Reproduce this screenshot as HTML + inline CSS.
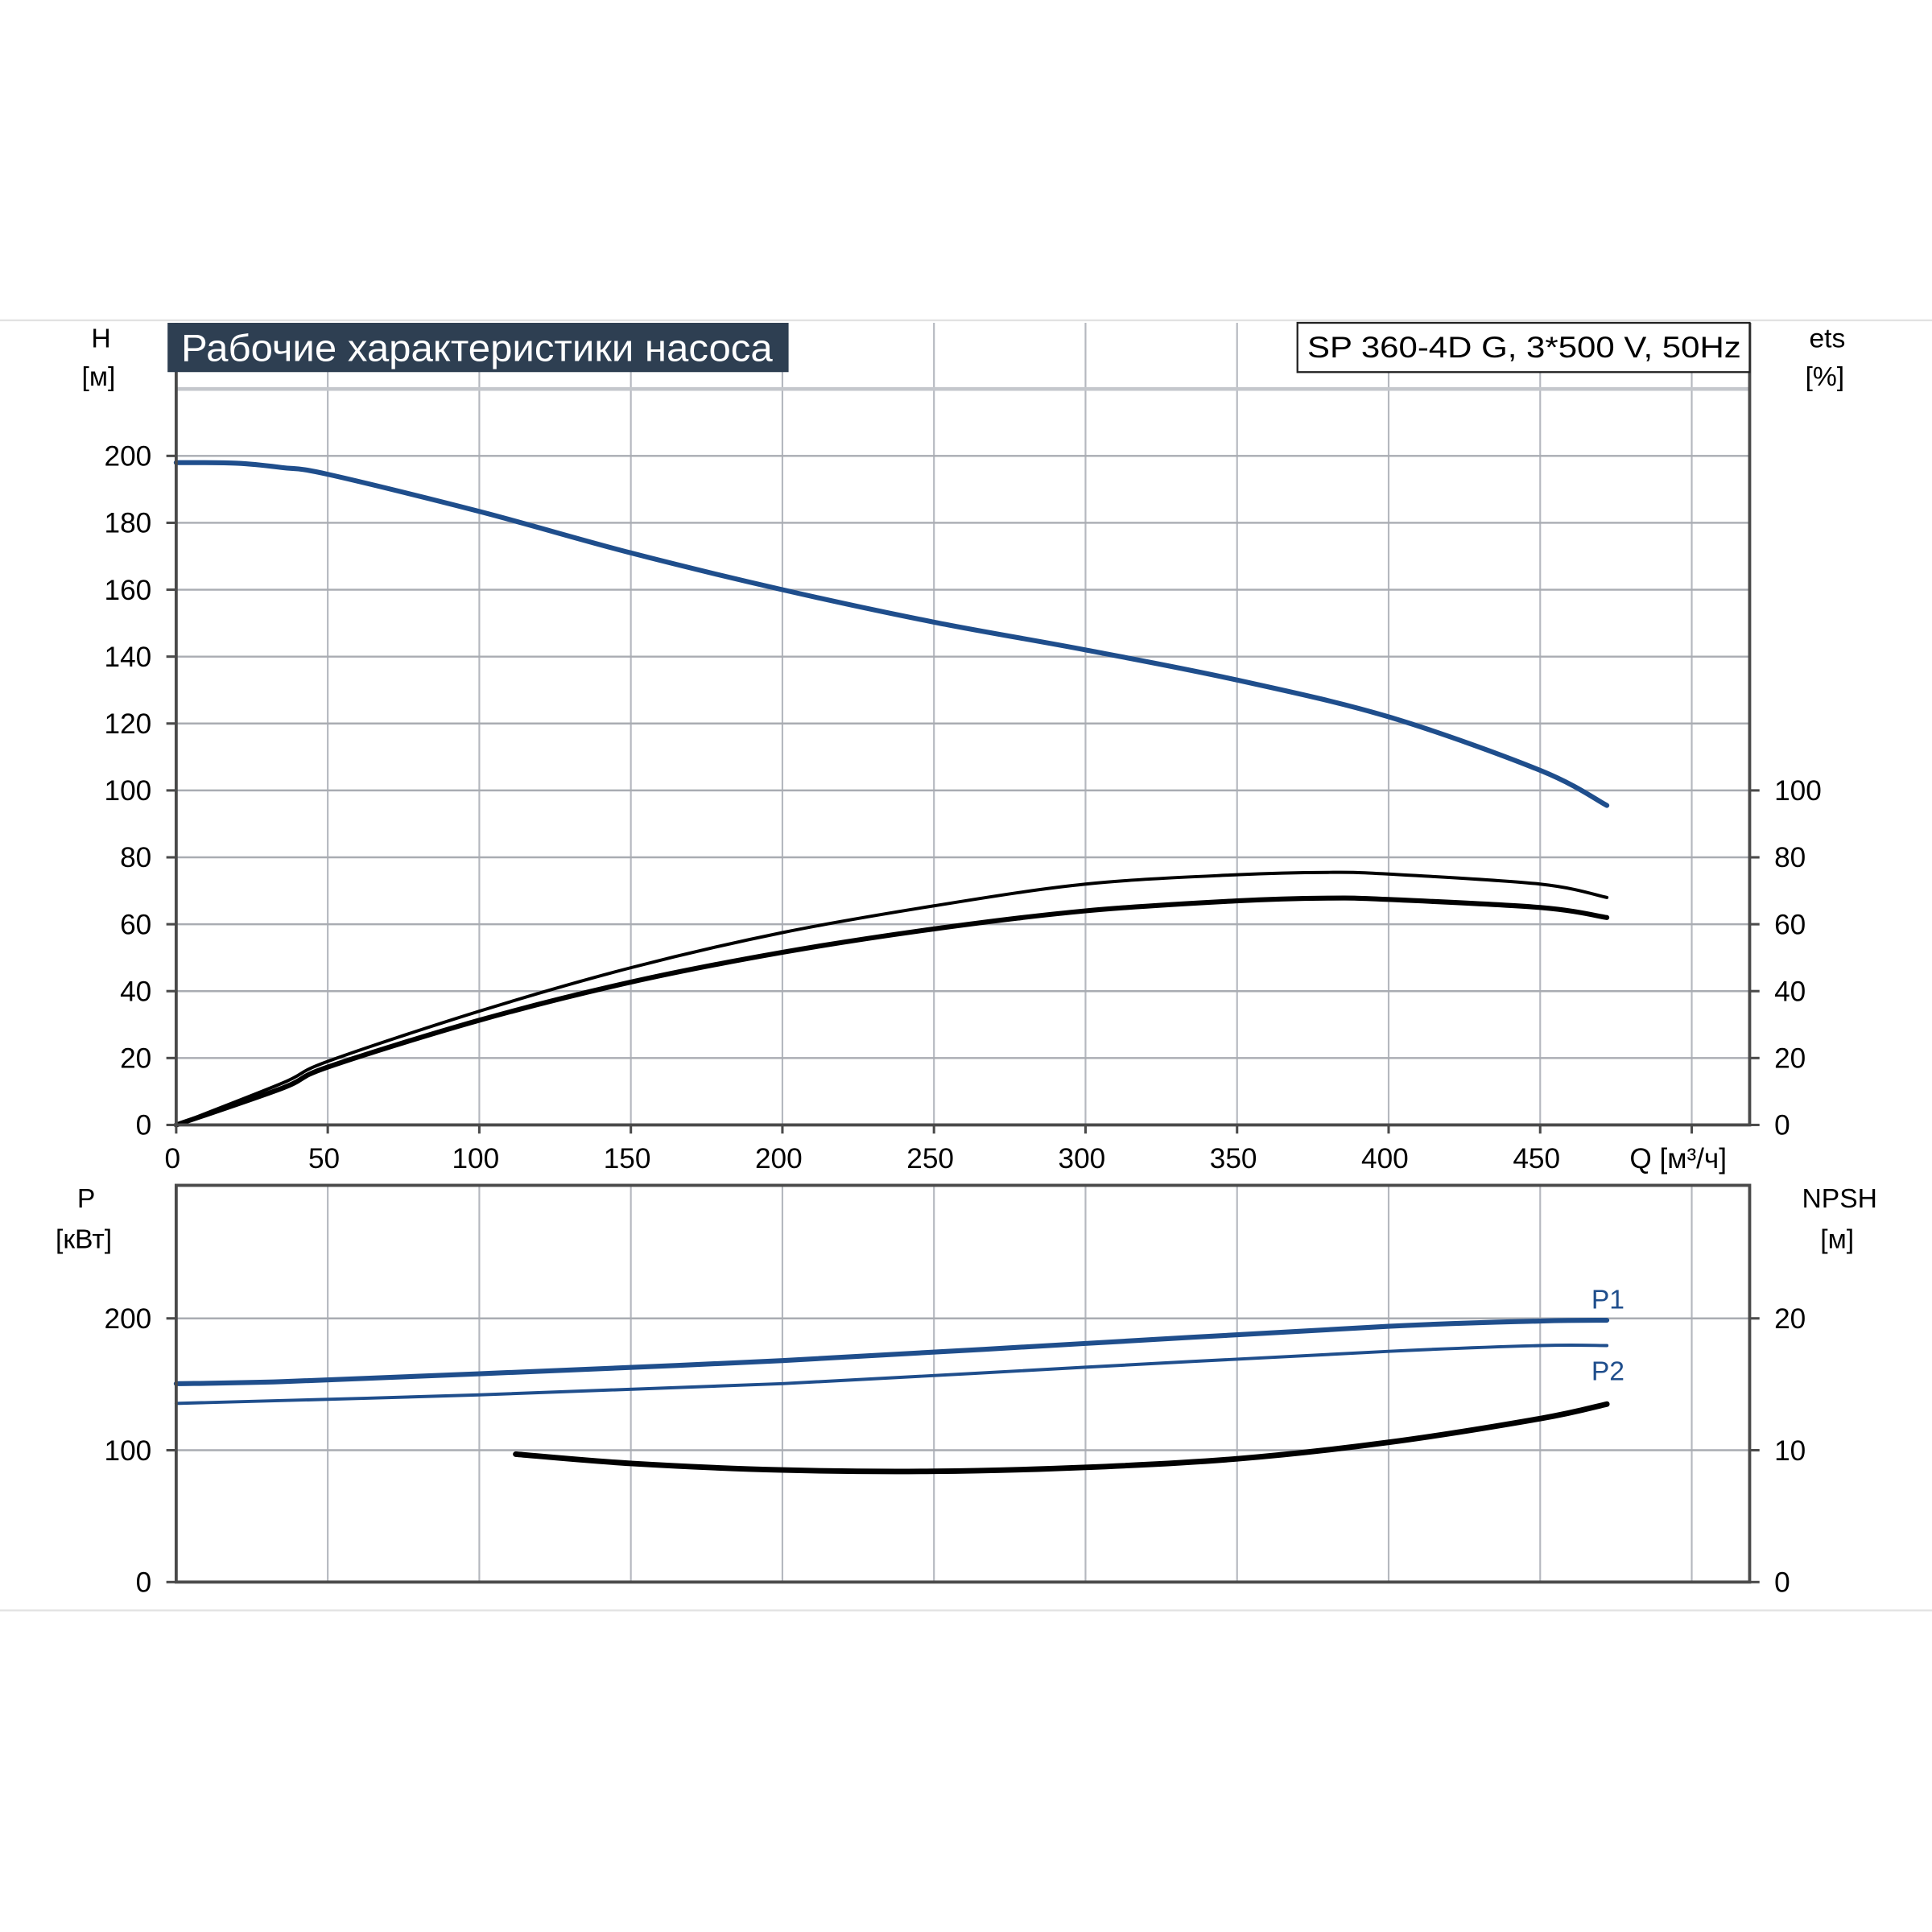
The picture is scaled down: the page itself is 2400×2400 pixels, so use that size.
<!DOCTYPE html>
<html><head><meta charset="utf-8"><style>
html,body{margin:0;padding:0;background:#fff;}
svg{display:block;}
text{font-family:"Liberation Sans",sans-serif;}
</style></head><body>
<svg id="c" width="2400" height="2400" viewBox="0 0 1568 1568" xmlns="http://www.w3.org/2000/svg">
<line x1="0" y1="260" x2="1568" y2="260" stroke="#e2e2e2" stroke-width="1.5"/>
<line x1="0" y1="1307" x2="1568" y2="1307" stroke="#e2e2e2" stroke-width="1.5"/>
<g id="grid"></g>
<g id="series"></g>
<g id="axes"></g>
<rect x="136" y="262" width="504" height="40" fill="#2e3f52"/>
<text x="147" y="293" fill="#fff" font-size="31" textLength="480" lengthAdjust="spacingAndGlyphs" style="font-family:'Liberation Sans Narrow','Liberation Sans',sans-serif">Рабочие характеристики насоса</text>
<rect x="1053" y="262" width="367" height="40" fill="#fff" stroke="#222" stroke-width="1.5"/>
<text x="1061" y="290" font-size="24" textLength="352" lengthAdjust="spacingAndGlyphs">SP 360-4D G, 3*500 V, 50Hz</text>
<text x="82" y="282" font-size="22" text-anchor="middle">H</text>
<text x="80" y="313" font-size="22" text-anchor="middle">[м]</text>
<text x="1483" y="282" font-size="22" text-anchor="middle">ets</text>
<text x="1481" y="313" font-size="22" text-anchor="middle">[%]</text>
<text x="1362" y="948" font-size="23" text-anchor="middle">Q [м³/ч]</text>
<text x="70" y="980" font-size="22" text-anchor="middle">P</text>
<text x="68" y="1013" font-size="22" text-anchor="middle">[кВт]</text>
<text x="1493" y="980" font-size="22" text-anchor="middle">NPSH</text>
<text x="1491" y="1013" font-size="22" text-anchor="middle">[м]</text>
<text x="1305" y="1062" font-size="22" fill="#1f4e8c" text-anchor="middle">P1</text>
<text x="1305" y="1120" font-size="22" fill="#1f4e8c" text-anchor="middle">P2</text>
</svg>
<script>
const qTicks=[0,50,100,150,200,250,300,350,400,450];
const hTicks=[0,20,40,60,80,100,120,140,160,180,200];
const etaTicks=[0,20,40,60,80,100];
const pTicks=[0,100,200];
const npshTicks=[0,10,20];
const hQ=[0,20,35,50,100,150,200,250,300,350,400,450,472];
const hVal=[198,197.8,196.5,194.5,183.4,171,160,150.3,142,133,122,106,95.5];
const eta1Q=[0,35,50,100,150,200,250,300,350,380,400,450,472];
const eta1Val=[0,12.5,19,34,47,57.5,65.5,72,74.8,75.5,75,72,68];
const eta2Q=[0,35,50,100,150,200,250,300,350,380,400,450,472];
const eta2Val=[0,11,17.3,31.3,42.7,51.6,58.6,64,67,67.8,67.4,65,62];
const p1Q=[0,35,100,200,300,400,450,472];
const p1Val=[150.5,152,158,168,181,194,198,198.6];
const p2Q=[0,100,200,300,400,450,472];
const p2Val=[135.5,142,150.5,163,175,179.4,179.4];
const npshQ=[112,150,200,250,300,350,400,450,472];
const npshVal=[9.7,9.0,8.5,8.4,8.7,9.35,10.6,12.4,13.5];

const NS='http://www.w3.org/2000/svg';
const X0=143,X1=1420,TOP0=913,TOP1=262,BOT0=1284,BOT1=962;
const xS=q=>X0+q*(123/50);
const hS=v=>TOP0-v*(54.3/20);
const eS=v=>TOP0-v*(54.3/20);
const pS=v=>BOT0-v*(214/200);
const nS=v=>BOT0-v*(214/20);
function mk(tag,attrs,parent){const e=document.createElementNS(NS,tag);for(const k in attrs)e.setAttribute(k,attrs[k]);parent.appendChild(e);return e;}
const grid=document.getElementById('grid'),axes=document.getElementById('axes'),ser=document.getElementById('series');
for(let q=50;q<=500;q+=50){
 let l=mk('line',{x1:xS(q),y1:TOP1,x2:xS(q),y2:TOP0,stroke:'#b5b8bf','stroke-width':1.4},grid);
 
 
 let l2=mk('line',{x1:xS(q),y1:BOT1,x2:xS(q),y2:BOT0,stroke:'#b5b8bf','stroke-width':1.4},grid);
 
 
}
for(let h=20;h<=220;h+=20){
 let l=mk('line',{x1:X0,y1:hS(h),x2:X1,y2:hS(h),stroke:h==220?'#c4c7cc':'#a9acb2','stroke-width':h==220?3:1.6},grid);
 
 
}
for(const p of [100,200]){
 let l=mk('line',{x1:X0,y1:pS(p),x2:X1,y2:pS(p),stroke:'#a9acb2','stroke-width':1.6},grid);
 
 
}
let f1=mk('path',{d:`M${X0},${TOP1}V${TOP0}H${X1}V${TOP1}`,fill:'none',stroke:'#4a4a4a','stroke-width':2.5},axes);


let f2=mk('rect',{x:X0,y:BOT1,width:X1-X0,height:BOT0-BOT1,fill:'none',stroke:'#4a4a4a','stroke-width':2.5},axes);


function txt(s,x,y,anchor,name){const t=mk('text',{x:x,y:y,'font-size':23,'text-anchor':anchor},axes);t.textContent=s;return t;}
qTicks.forEach(q=>{
 mk('line',{x1:xS(q),y1:TOP0,x2:xS(q),y2:TOP0+7,stroke:'#4a4a4a','stroke-width':2},axes);
 txt(String(q),xS(q)-3,948,'middle','q-tick-label');
});
mk('line',{x1:xS(500),y1:TOP0,x2:xS(500),y2:TOP0+7,stroke:'#4a4a4a','stroke-width':2},axes);
hTicks.forEach(h=>{
 mk('line',{x1:X0-8,y1:hS(h),x2:X0,y2:hS(h),stroke:'#4a4a4a','stroke-width':2},axes);
 txt(String(h),123,hS(h)+8,'end','h-tick-label');
});
etaTicks.forEach(v=>{
 mk('line',{x1:X1,y1:eS(v),x2:X1+8,y2:eS(v),stroke:'#4a4a4a','stroke-width':2},axes);
 txt(String(v),1440,eS(v)+8,'start','eta-tick-label');
});
pTicks.forEach(v=>{
 mk('line',{x1:X0-8,y1:pS(v),x2:X0,y2:pS(v),stroke:'#4a4a4a','stroke-width':2},axes);
 txt(String(v),123,pS(v)+8,'end','p-tick-label');
});
npshTicks.forEach(v=>{
 mk('line',{x1:X1,y1:nS(v),x2:X1+8,y2:nS(v),stroke:'#4a4a4a','stroke-width':2},axes);
 txt(String(v),1440,nS(v)+8,'start','npsh-tick-label');
});
function smooth(pts){
 let d=`M${pts[0][0]},${pts[0][1]}`;
 for(let i=0;i<pts.length-1;i++){
  const p0=pts[i-1]||pts[i],p1=pts[i],p2=pts[i+1],p3=pts[i+2]||p2;
  const c1=[p1[0]+(p2[0]-p0[0])/6,p1[1]+(p2[1]-p0[1])/6];
  const c2=[p2[0]-(p3[0]-p1[0])/6,p2[1]-(p3[1]-p1[1])/6];
  d+=`C${c1[0]},${c1[1]} ${c2[0]},${c2[1]} ${p2[0]},${p2[1]}`;
 }
 return d;
}
function curve(qs,vs,ys,color,w,name){
 const pts=qs.map((q,i)=>[xS(q),ys(vs[i])]);
 const p=mk('path',{d:smooth(pts),fill:'none',stroke:color,'stroke-width':w,'stroke-linecap':'round'},ser);
 
 
}
curve(hQ,hVal,hS,'#1f4e8c',4,'h-curve');
curve(eta1Q,eta1Val,eS,'#000',2.6,'eta-curve-upper');
curve(eta2Q,eta2Val,eS,'#000',4,'eta-curve-lower');
curve(p1Q,p1Val,pS,'#1f4e8c',4,'p1-curve');
curve(p2Q,p2Val,pS,'#1f4e8c',2.6,'p2-curve');
curve(npshQ,npshVal,nS,'#000',4.5,'npsh-curve');
</script>
</body></html>
